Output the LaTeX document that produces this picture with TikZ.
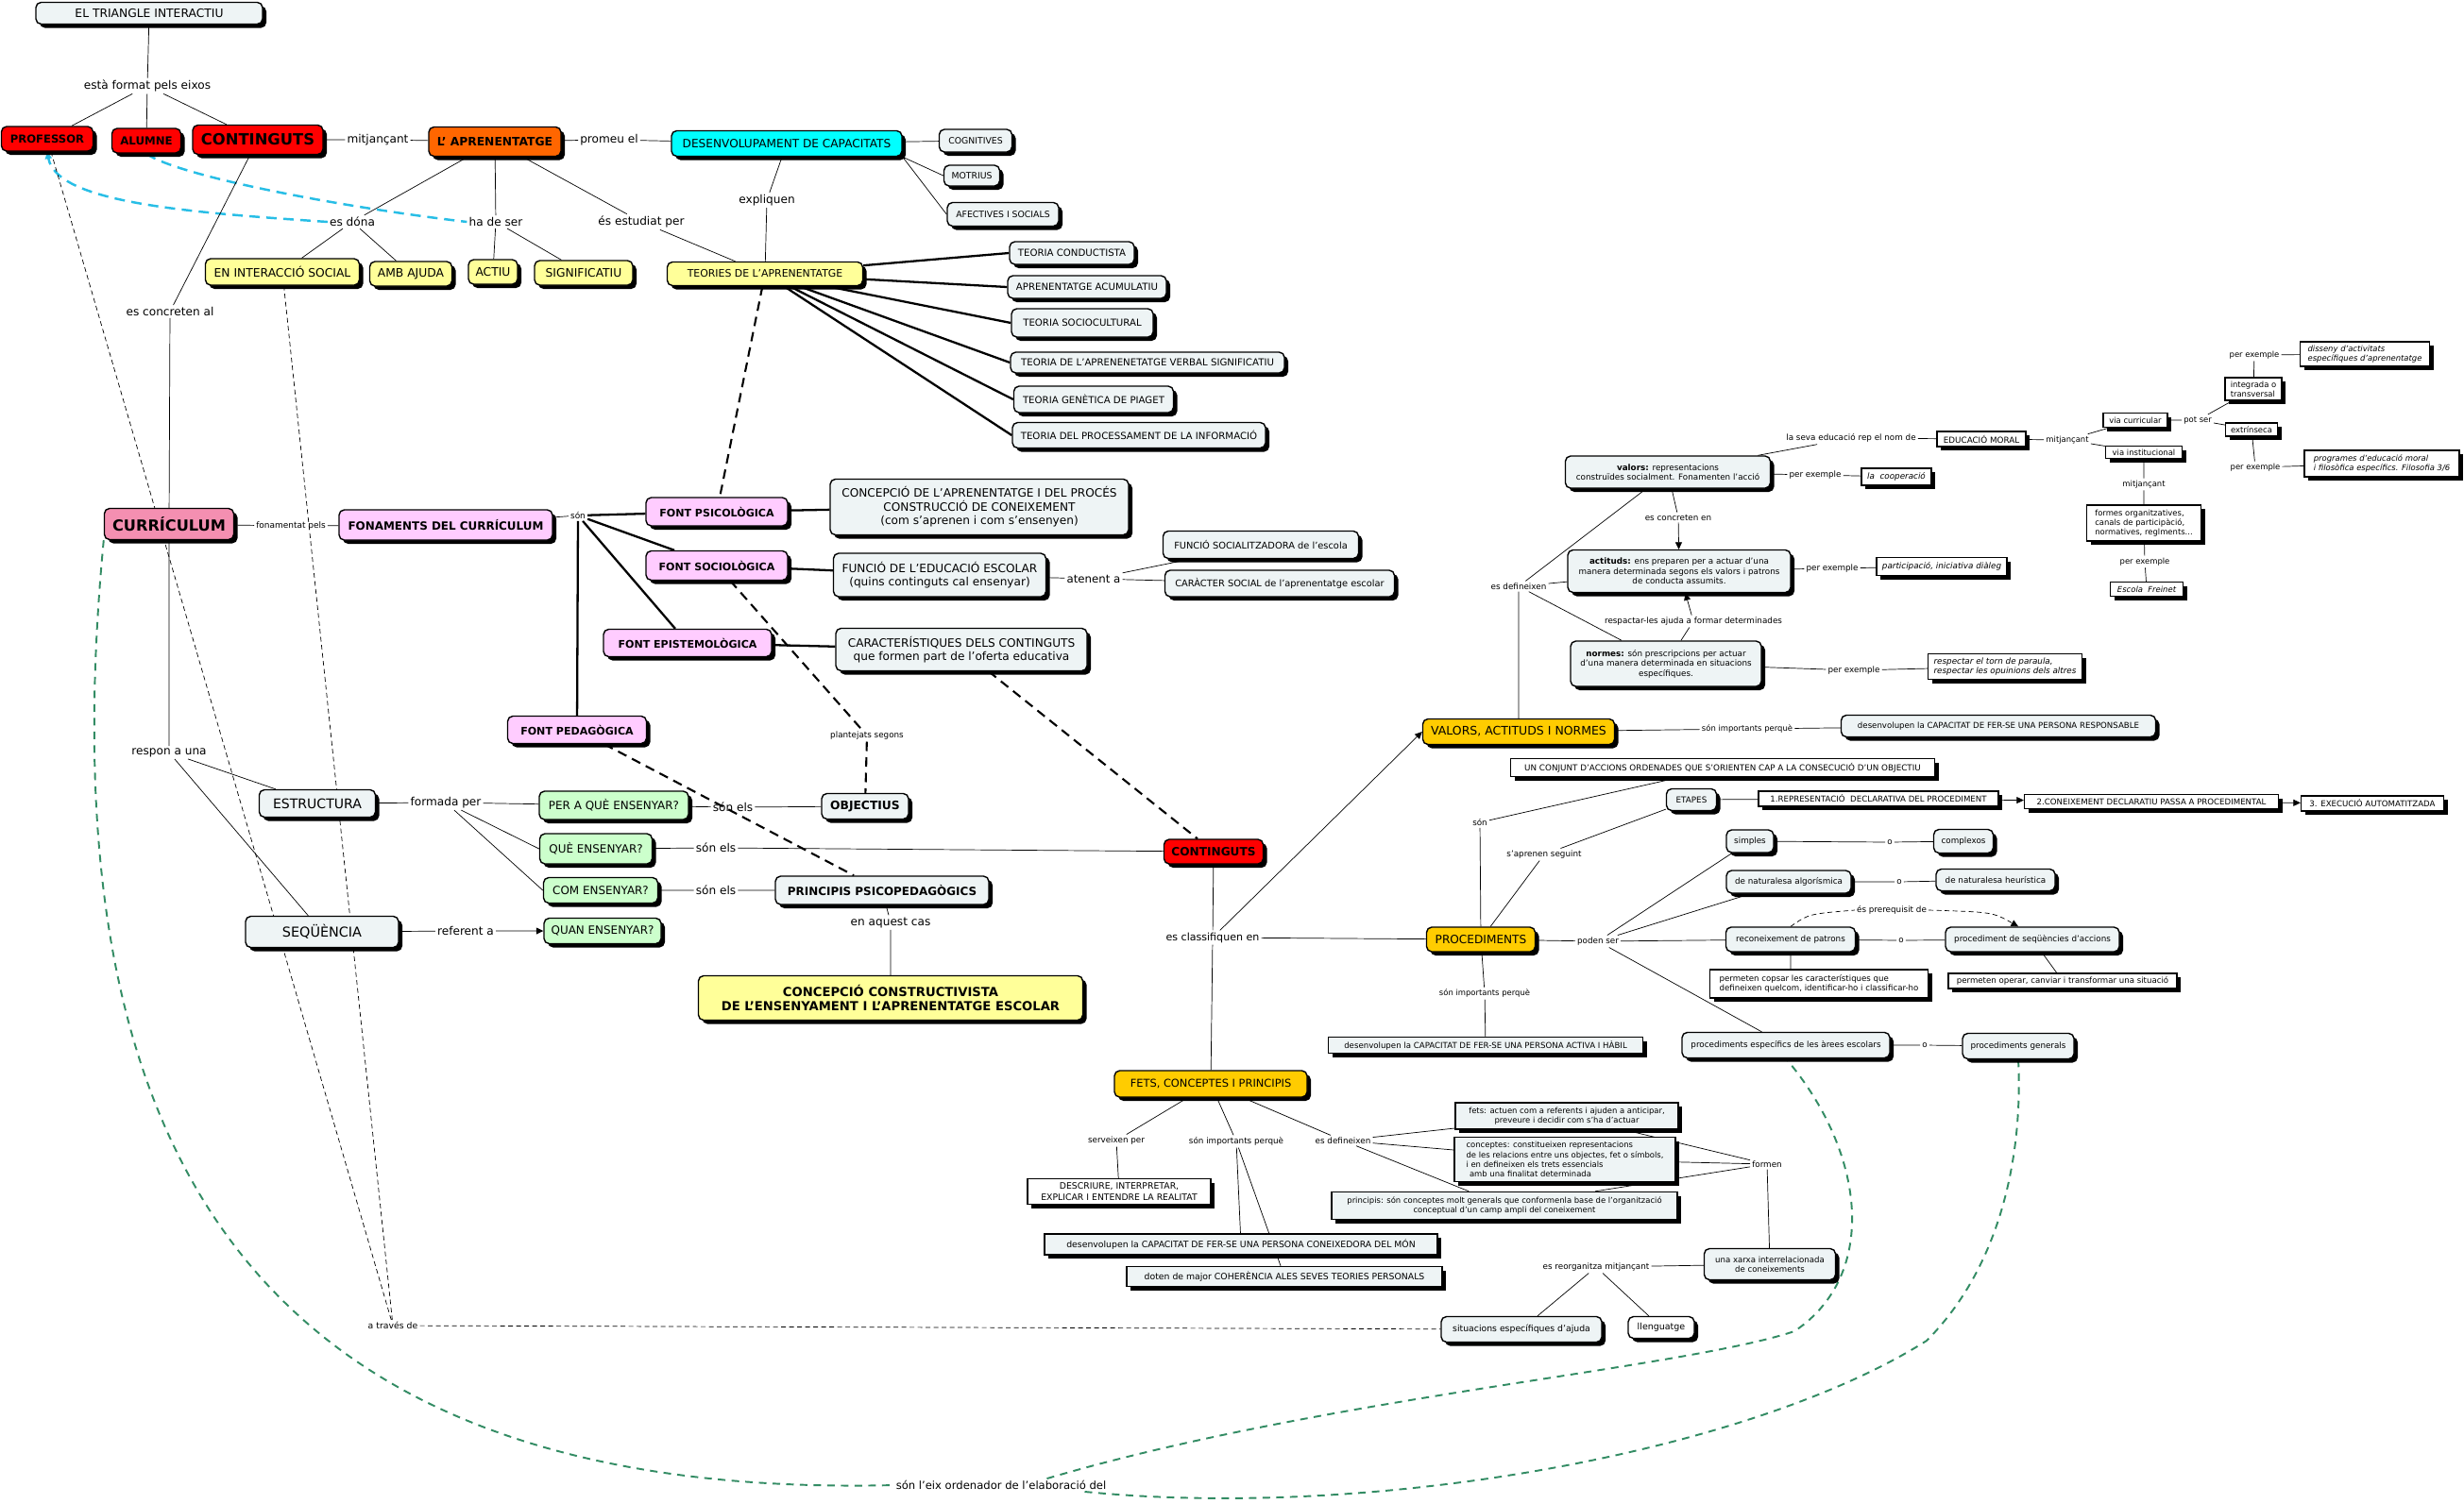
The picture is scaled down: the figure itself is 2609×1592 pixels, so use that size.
\documentclass[tikz,border=0pt]{standalone}
\usepackage{fontspec}
\setmainfont{DejaVu Sans}
\usetikzlibrary{shadows,arrows.meta,backgrounds,calc}
\definecolor{light}{RGB}{238,244,245}
\definecolor{mapyellow}{RGB}{255,255,153}
\definecolor{mapred}{RGB}{255,0,0}
\definecolor{maporange}{RGB}{255,102,0}
\definecolor{mapcyan}{RGB}{0,255,255}
\definecolor{mappink}{RGB}{244,143,177}
\definecolor{lightpink}{RGB}{255,204,255}
\definecolor{lightgreen}{RGB}{204,255,204}
\definecolor{mapgold}{RGB}{255,204,0}
\definecolor{pathgreen}{RGB}{51,140,100}
\definecolor{pathcyan}{RGB}{40,190,230}
\newcommand\sz[1]{\fontsize{#1}{\fpeval{1.2*#1}}\selectfont}
\begin{document}
\begin{tikzpicture}[x=0.2mm, y=-0.2mm, line width=0.55pt,
  box/.style={draw, rounded corners=1.1mm, line width=0.8pt, fill=light, inner sep=1.5pt, align=center,
    drop shadow={shadow xshift=0.8mm, shadow yshift=-0.8mm, opacity=1, fill=black}},
  sq/.style={box, sharp corners, fill=white},
  wh/.style 2 args={minimum width=#1*0.2mm, minimum height=#2*0.2mm},
  fs/.style={font=\sz{#1}},
  bfs/.style={font=\sz{#1}\bfseries},
  its/.style={font=\sz{#1}\itshape},
  lbl/.style={inner sep=1pt, font=\sz{#1}}, lbl/.default=6.9,
  bold link/.style={line width=1.3pt},
  arrowto/.style={-{Triangle[length=1.5mm, width=1.4mm]}},
  dash link/.style={line width=1.2pt, dash pattern=on 2mm off 1.3mm},
  thin dash/.style={dash pattern=on 1mm off 0.7mm},
  cyan link/.style={pathcyan, line width=1.4pt, dash pattern=on 2.2mm off 1.4mm},
  green link/.style={pathgreen, line width=1.1pt, dash pattern=on 1.6mm off 1.3mm}]
\useasboundingbox (0,0) rectangle (2609,1592);

\node[box, wh={240}{23}, fs=7] (tri) at (158,14) {EL TRIANGLE INTERACTIU};
\node[lbl] (eixos) at (156,91) {està format pels eixos};
\node[box, fill=mapred, wh={97}{26}, bfs=6.6] (prof) at (50,147) {PROFESSOR};
\node[box, fill=mapred, wh={73}{26}, bfs=6.7] (alum) at (155,149) {ALUMNE};
\node[box, fill=mapred, wh={138}{31}, bfs=9.3] (cont) at (273,148) {CONTINGUTS};
\node[lbl] (mitj) at (400,148) {mitjançant};
\node[box, fill=maporange, wh={140}{31}, bfs=7] (apren) at (524,150) {L' APRENENTATGE};
\node[lbl] (promeu) at (645,148) {promeu el};
\node[box, fill=mapcyan, wh={244}{27}, fs=6.9] (desenv) at (833,152) {DESENVOLUPAMENT DE CAPACITATS};
\node[box, wh={77}{24}, fs=5.3] (cogn) at (1033,149) {COGNITIVES};
\node[box, wh={59}{22}, fs=5.3] (motr) at (1029,186) {MOTRIUS};
\node[box, wh={118}{25}, fs=5.3] (afect) at (1062,227) {AFECTIVES I SOCIALS};
\node[lbl] (expliq) at (812,212) {expliquen};
\node[lbl] (esdona) at (373,235) {es dóna};
\node[lbl] (hadeser) at (525,235) {ha de ser};
\node[lbl] (estudiat) at (679,235) {és estudiat per};
\node[box, fill=mapyellow, wh={163}{28}, fs=7] (social) at (299,288) {EN INTERACCIÓ SOCIAL};
\node[box, fill=mapyellow, wh={87}{26}, fs=7] (ajuda) at (435,290) {AMB AJUDA};
\node[box, fill=mapyellow, wh={52}{26}, fs=7] (actiu) at (522,288) {ACTIU};
\node[box, fill=mapyellow, wh={104}{26}, fs=7] (signif) at (618,289) {SIGNIFICATIU};
\node[box, fill=mapyellow, wh={207}{25}, fs=6.2] (teories) at (810,290) {TEORIES DE L'APRENENTATGE};
\node[box, wh={132}{24}, fs=5.8] (t1) at (1135,268) {TEORIA CONDUCTISTA};
\node[box, wh={168}{24}, fs=5.8] (t2) at (1151,304) {APRENENTATGE ACUMULATIU};
\node[box, wh={150}{30}, fs=5.8] (t3) at (1146,342) {TEORIA SOCIOCULTURAL};
\node[box, wh={290}{22}, fs=5.8] (t4) at (1215,384) {TEORIA DE L'APRENENETATGE VERBAL SIGNIFICATIU};
\node[box, wh={169}{28}, fs=5.8] (t5) at (1158,423) {TEORIA GENÈTICA DE PIAGET};
\node[box, wh={268}{27}, fs=5.8] (t6) at (1206,461) {TEORIA DEL PROCESSAMENT DE LA INFORMACIÓ};
\node[lbl] (concret) at (180,330) {es concreten al};
\node[box, fill=mappink, wh={137}{33}, bfs=9.2] (curr) at (179,555) {CURRÍCULUM};
\node[lbl=5.1] (fonamentat) at (308,557) {fonamentat pels};
\node[box, fill=lightpink, wh={226}{32}, bfs=6.8] (fonam) at (472,556) {FONAMENTS DEL CURRÍCULUM};
\node[lbl=5.1] (son) at (612,546) {són};
\node[box, fill=lightpink, wh={150}{30}, bfs=6.3] (fpsi) at (759,542) {FONT PSICOLÒGICA};
\node[box, fill=lightpink, wh={150}{31}, bfs=6.3] (fsoc) at (759,599) {FONT SOCIOLÒGICA};
\node[box, fill=lightpink, wh={178}{29}, bfs=6.3] (fepi) at (728,681) {FONT EPISTEMOLÒGICA};
\node[box, fill=lightpink, wh={147}{29}, bfs=6.3] (fped) at (611,773) {FONT PEDAGÒGICA};
\node[box, wh={316}{59}, fs=6.9] (concep) at (1037,537) {CONCEPCIÓ DE L'APRENENTATGE I DEL PROCÉS\\CONSTRUCCIÓ DE CONEIXEMENT\\(com s'aprenen i com s'ensenyen)};
\node[box, wh={225}{46}, fs=6.9] (funcio) at (995,609) {FUNCIÓ DE L'EDUCACIÓ ESCOLAR\\(quins continguts cal ensenyar)};
\node[lbl=6.7] (atenent) at (1158,613) {atenent a};
\node[box, wh={207}{29}, fs=5.6] (fsocial) at (1335,577) {FUNCIÓ SOCIALITZADORA de l'escola};
\node[box, wh={243}{28}, fs=5.6] (caracter) at (1355,618) {CARÀCTER SOCIAL de l'aprenentatge escolar};
\node[box, wh={266}{45}, fs=6.9] (caract) at (1018,688) {CARACTERÍSTIQUES DELS CONTINGUTS\\que formen part de l'oferta educativa};
\node[lbl=5] (plantej) at (918,779) {plantejats segons};
\node[box, wh={92}{27}, bfs=7] (objec) at (916,854) {OBJECTIUS};
\node[lbl] (respon) at (179,797) {respon a una};
\node[box, wh={123}{29}, fs=8] (estruct) at (336,851) {ESTRUCTURA};
\node[box, wh={162}{33}, fs=8.2] (sequen) at (341,987) {SEQÜÈNCIA};
\node[lbl] (formada) at (472,850) {formada per};
\node[box, fill=lightgreen, wh={158}{30}, fs=6.8] (q1) at (650,853) {PER A QUÈ ENSENYAR?};
\node[box, fill=lightgreen, wh={119}{32}, fs=6.8] (q2) at (631,899) {QUÈ ENSENYAR?};
\node[box, fill=lightgreen, wh={121}{27}, fs=6.8] (q3) at (636,943) {COM ENSENYAR?};
\node[box, fill=lightgreen, wh={124}{27}, fs=6.8] (q4) at (638,986) {QUAN ENSENYAR?};
\node[lbl] (referent) at (493,986) {referent a};
\node[lbl] (sonels1) at (776,855) {són els};
\node[lbl] (sonels2) at (758,898) {són els};
\node[lbl] (sonels3) at (758,943) {són els};
\node[box, fill=mapred, wh={105}{26}, bfs=6.9] (cont2) at (1285,902) {CONTINGUTS};
\node[box, wh={226}{30}, bfs=6.8] (princ) at (934,943) {PRINCIPIS PSICOPEDAGÒGICS};
\node[lbl] (aquest) at (943,977) {en aquest cas};
\node[box, fill=mapyellow, wh={407}{47}, bfs=7.5] (constr) at (943,1057) {CONCEPCIÓ CONSTRUCTIVISTA\\DE L'ENSENYAMENT I L'APRENENTATGE ESCOLAR};
\node[lbl=6.3] (classif) at (1284,993) {es classifiquen en};

\node[box, fill=mapgold, wh={203}{27}, fs=7.1] (van) at (1608,775) {VALORS, ACTITUDS I NORMES};
\node[box, fill=mapgold, wh={115}{26}, fs=6.9] (proced) at (1568,995) {PROCEDIMENTS};
\node[box, fill=mapgold, wh={204}{28}, fs=6.5] (fets) at (1282,1148) {FETS, CONCEPTES I PRINCIPIS};
\node[box, wh={217}{34}, fs=5] (valors) at (1766,500) {\textbf{valors:} representacions\\construïdes socialment. Fonamenten l'acció};
\node[lbl=5] (rep) at (1960,464) {la seva educació rep el nom de};
\node[sq, wh={94}{16}, fs=5] (edmoral) at (2098,465) {EDUCACIÓ MORAL};
\node[lbl=5] (perex1) at (1922,503) {per exemple};
\node[sq, wh={74}{18}, its=5] (coop) at (2008,505) {la\ \ cooperació};
\node[lbl=5] (concr2) at (1777,548) {es concreten en};
\node[box, wh={236}{45}, fs=5] (actituds) at (1778,605) {\textbf{actituds:} ens preparen per a actuar d'una\\manera determinada segons els valors i patrons\\de conducta assumits.};
\node[lbl=5] (perex2) at (1940,602) {per exemple};
\node[sq, wh={138}{19}, its=5] (partic) at (2056,600) {participació, iniciativa diàleg};
\node[lbl=5] (defin) at (1608,621) {es defineixen};
\node[lbl=5] (respect) at (1793,658) {respactar-les ajuda a formar determinades};
\node[box, wh={202}{48}, fs=5] (normes) at (1764,703) {\textbf{normes:} són prescripcions per actuar\\d'una manera determinada en situacions\\específiques.};
\node[lbl=5] (perex3) at (1963,710) {per exemple};
\node[sq, wh={163}{27}, its=5, align=left] (torn) at (2123,706) {respectar el torn de paraula,\\respectar les opuinions dels altres};
\node[lbl=4.8] (import1) at (1850,772) {són importants perquè};
\node[box, wh={333}{23}, fs=4.9] (respons) at (2116,769) {desenvolupen la CAPACITAT DE FER-SE UNA PERSONA RESPONSABLE};
\node[lbl=4.8] (mitj2) at (2189,466) {mitjançant};
\node[sq, wh={68}{15}, fs=4.8] (curric) at (2261,445) {via curricular};
\node[sq, wh={81}{13}, fs=4.8] (instit) at (2270,479) {via institucional};
\node[lbl=4.8] (potser) at (2327,445) {pot ser};
\node[sq, wh={60}{24}, fs=4.8, align=left] (integr) at (2386,412) {integrada o\\transversal};
\node[lbl=4.8] (perex4) at (2387,376) {per exemple};
\node[sq, wh={137}{26}, its=4.8, align=left] (disseny) at (2504,375) {disseny d'activitats\\específiques d'aprenentatge};
\node[sq, wh={55}{14}, fs=4.8] (extrin) at (2384,455) {extrínseca};
\node[lbl=4.8] (perex5) at (2388,495) {per exemple};
\node[sq, wh={164}{28}, its=4.8, align=left] (program) at (2522,491) {programes d'educació moral\\i filosòfica específics. Filosofia 3/6};
\node[lbl=4.8] (mitj3) at (2270,513) {mitjançant};
\node[sq, wh={121}{38}, fs=4.8, align=left] (formes) at (2270,554) {formes organitzatives,\\canals de participàció,\\normatives, reglments...};
\node[lbl=4.8] (perex6) at (2271,595) {per exemple};
\node[sq, wh={77}{15}, its=4.8] (freinet) at (2273,624) {Escola\ \ Freinet};

\node[sq, wh={449}{19}, fs=5] (conjunt) at (1824,813) {UN CONJUNT D'ACCIONS ORDENADES QUE S'ORIENTEN CAP A LA CONSECUCIÓ D'UN OBJECTIU};
\node[lbl=5] (sonp) at (1567,871) {són};
\node[box, wh={53}{23}, fs=5] (etapes) at (1791,847) {ETAPES};
\node[lbl=5] (seguint) at (1635,905) {s'aprenen seguint};
\node[sq, wh={254}{16}, fs=4.9] (e1) at (1989,846) {1.REPRESENTACIÓ\ \ DECLARATIVA DEL PROCEDIMENT};
\node[sq, wh={269}{15}, fs=4.9] (e2) at (2278,849) {2.CONEIXEMENT DECLARATIU PASSA A PROCEDIMENTAL};
\node[sq, wh={151}{16}, fs=4.9] (e3) at (2512,851) {3. EXECUCIÓ AUTOMATITZADA};
\node[lbl=5] (poden) at (1692,997) {poden ser};
\node[box, wh={50}{24}, fs=5] (simples) at (1853,891) {simples};
\node[lbl=5] (o1) at (2001,892) {o};
\node[box, wh={63}{25}, fs=5] (complex) at (2079,891) {complexos};
\node[box, wh={132}{24}, fs=5] (algor) at (1894,934) {de naturalesa algorísmica};
\node[lbl=5] (o2) at (2011,934) {o};
\node[box, wh={126}{23}, fs=5] (heur) at (2113,932) {de naturalesa heurística};
\node[lbl=5] (prereq) at (2003,964) {és prerequisit de};
\node[box, wh={137}{26}, fs=5] (recon) at (1896,995) {reconeixement de patrons};
\node[lbl=5] (o3) at (2013,996) {o};
\node[box, wh={184}{26}, fs=5] (seqacc) at (2152,995) {procediment de seqüències d'accions};
\node[sq, wh={231}{30}, fs=4.9, align=left] (copsar) at (1926,1042) {permeten copsar les característiques que\\defineixen quelcom, identificar-ho i classificar-ho};
\node[sq, wh={242}{16}, fs=4.9] (operar) at (2184,1039) {permeten operar, canviar i transformar una situació};
\node[box, wh={220}{27}, fs=5] (espec) at (1891,1107) {procediments específics de les àrees escolars};
\node[lbl=5] (o4) at (2038,1107) {o};
\node[box, wh={118}{27}, fs=5] (generals) at (2137,1108) {procediments generals};
\node[lbl=4.8] (import2) at (1572,1052) {són importants perquè};
\node[sq, fill=light, wh={333}{17}, fs=4.9] (activa) at (1573,1107) {desenvolupen la CAPACITAT DE FER-SE UNA PERSONA ACTIVA I HÀBIL};

\node[lbl=5] (serv) at (1182,1208) {serveixen per};
\node[lbl=5] (import3) at (1309,1209) {són importants perquè};
\node[lbl=5] (defin2) at (1422,1208) {es defineixen};
\node[sq, wh={194}{27}, fs=5.3] (descr) at (1185,1262) {DESCRIURE, INTERPRETAR,\\EXPLICAR I ENTENDRE LA REALITAT};
\node[sq, fill=light, wh={416}{22}, fs=5.3] (coneix) at (1314,1318) {desenvolupen la CAPACITAT DE FER-SE UNA PERSONA CONEIXEDORA DEL MÓN};
\node[sq, fill=light, wh={334}{21}, fs=5.3] (coher) at (1360,1352) {doten de major COHERÈNCIA ALES SEVES TEORIES PERSONALS};
\node[sq, fill=light, wh={236}{28}, fs=4.8] (fetsd) at (1659,1182) {fets: actuen com a referents i ajuden a anticipar,\\preveure i decidir com s'ha d'actuar};
\node[sq, fill=light, wh={234}{47}, fs=4.8, align=left] (concd) at (1657,1228) {conceptes: constitueixen representacions\\de les relacions entre uns objectes, fet o símbols,\\i en defineixen els trets essencials\\\hspace{2pt}amb una finalitat determinada};
\node[sq, fill=light, wh={366}{29}, fs=4.8] (princd) at (1593,1277) {principis: són conceptes molt generals que conformenla base de l'organització\\conceptual d'un camp ampli del coneixement};
\node[lbl=5] (formen) at (1871,1233) {formen};
\node[box, wh={139}{33}, fs=4.9] (xarxa) at (1874,1339) {una xarxa interrelacionada\\de coneixements};
\node[lbl=5] (reorg) at (1690,1342) {es reorganitza mitjançant};
\node[box, wh={170}{27}, fs=5.3] (situac) at (1611,1408) {situacions específiques d'ajuda};
\node[box, fill=white, wh={70}{23}, fs=5.4] (lleng) at (1759,1406) {llenguatge};
\node[lbl=5.3] (traves) at (416,1404) {a través de};
\node[lbl=6.6] (eix) at (1060,1573) {són l'eix ordenador de l'elaboració del};

\begin{scope}[on background layer]
\fill[white] (0,0) rectangle (2609,1592);
\draw (tri) -- (eixos) -- (prof) (eixos) -- (alum) (eixos) -- (cont);
\draw (cont) -- (mitj) -- (apren) -- (promeu) -- (desenv);
\draw (desenv) -- (cogn) (desenv.south east) -- (motr.west) (desenv.south east) -- (afect.west);
\draw (desenv) -- (expliq) -- (teories);
\draw (apren) -- (esdona) -- (social) (esdona) -- (ajuda);
\draw (apren) -- (hadeser) -- (actiu) (hadeser) -- (signif);
\draw (apren) -- (estudiat) -- (teories);
\draw[bold link] (teories) -- (t1.west) (teories) -- (t2.west) (teories) -- (t3.west)
  (teories) -- (t4.west) (teories) -- (t5.west) (teories) -- (t6.west);
\draw[cyan link, arrowto] (esdona.west) .. controls (200,225) and (60,215) .. (prof.south);
\draw[cyan link] (alum.south) .. controls (185,185) and (350,218) .. (hadeser.west);
\draw (cont) -- (concret) -- (curr);
\draw (curr) -- (fonamentat) -- (fonam) -- (son);
\draw[bold link] (son) -- (fpsi) (son) -- (fsoc) (son) -- (fepi) (son) -- (fped);
\draw[bold link] (fpsi) -- (concep) (fsoc) -- (funcio) (fepi) -- (caract);
\draw (funcio) -- (atenent) -- (fsocial) (atenent) -- (caracter);
\draw[dash link] (teories) -- (fpsi) (fsoc) -- (plantej) -- (objec) (fped) -- (princ) (caract) -- (cont2);
\draw (curr) -- (respon) -- (estruct) (respon) -- (sequen);
\draw (estruct) -- (formada) -- (q1) (formada) -- (q2.west) (formada) -- (q3.west);
\draw[arrowto] (sequen) -- (referent) -- (q4);
\draw (q1) -- (sonels1) -- (objec) (q2) -- (sonels2) -- (cont2) (q3) -- (sonels3) -- (princ);
\draw (princ) -- (aquest) -- (constr);
\draw (cont2) -- (classif) -- (fets) (classif) -- (proced);
\draw[arrowto] (classif) -- (van.west);
\draw (van) -- (import1) -- (respons);
\draw (van) -- (defin) -- (valors) (defin) -- (actituds) (defin) -- (normes);
\draw (valors) -- (rep) -- (edmoral) (valors) -- (perex1) -- (coop);
\draw (valors) -- (concr2);
\draw[arrowto] (concr2) -- (actituds);
\draw (actituds) -- (perex2) -- (partic);
\draw (normes) -- (respect);
\draw[arrowto] (respect) -- (actituds);
\draw (normes) -- (perex3) -- (torn);
\draw (edmoral) -- (mitj2) -- (curric) (mitj2) -- (instit);
\draw (curric) -- (potser) -- (integr) (potser) -- (extrin);
\draw (integr) -- (perex4) -- (disseny) (extrin) -- (perex5) -- (program);
\draw (instit) -- (mitj3) -- (formes) -- (perex6) -- (freinet);
\draw (proced) -- (sonp) -- (conjunt);
\draw (proced) -- (seguint) -- (etapes) -- (e1);
\draw[arrowto] (e1) -- (e2);
\draw[arrowto] (e2) -- (e3);
\draw (proced) -- (poden) -- (simples) (poden) -- (algor) (poden) -- (recon) (poden) -- (espec);
\draw (simples) -- (o1) -- (complex) (algor) -- (o2) -- (heur) (recon) -- (o3) -- (seqacc) (espec) -- (o4) -- (generals);
\draw (recon) -- (recon |- copsar.north) (seqacc) -- (operar);
\draw[thin dash] (recon.north) .. controls (1915,968) .. (prereq.west);
\draw[thin dash, arrowto] (prereq.east) .. controls (2110,966) .. ([xshift=-3mm]seqacc.north);
\draw (proced) -- (import2) -- (activa);
\draw (fets) -- (serv) -- (descr) (fets) -- (import3) -- (coneix) (import3) -- (coher);
\draw (fets) -- (defin2) -- (fetsd) (defin2) -- (concd) (defin2) -- (princd);
\draw (fetsd) -- (formen) (concd) -- (formen) (princd) -- (formen) (formen) -- (xarxa) -- (reorg) -- (situac) (reorg) -- (lleng);
\draw[thin dash] (prof) -- (traves) (social) -- (traves) (traves) -- (situac);
\draw[green link] (curr.south west) .. controls (50,1200) and (250,1590) .. (eix.west);
\draw[green link] ($(eix.north east)+(-65,0)$) .. controls (1400,1480) and (1780,1450) .. (1900,1410)
  .. controls (1990,1350) and (1975,1220) .. (espec.south);
\draw[green link] ($(eix.south east)+(-25,0)$) .. controls (1450,1610) and (1850,1540) .. (2040,1420)
  .. controls (2120,1340) and (2142,1220) .. (generals.south);
\end{scope}
\end{tikzpicture}
\end{document}
